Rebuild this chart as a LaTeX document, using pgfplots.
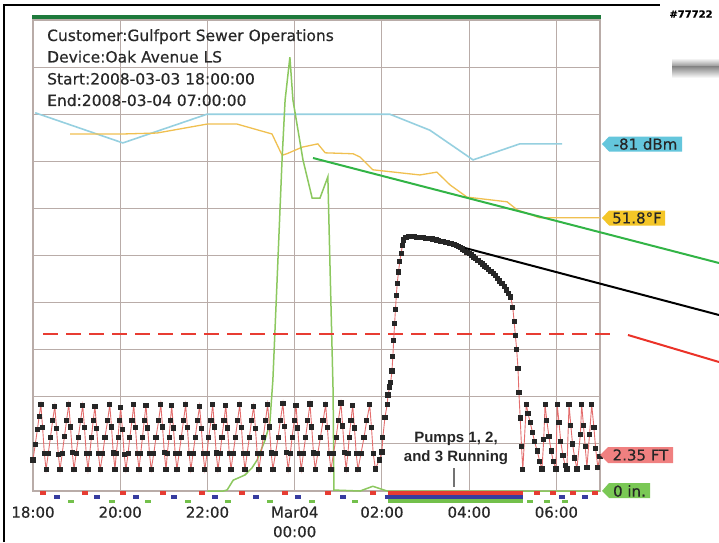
\documentclass[border=0pt]{standalone}
\usepackage{fontspec}
\setmainfont{DejaVu Sans}[FakeBold=0.35]
\newfontfamily\lib{Liberation Sans}
\usepackage{pgfplots}
\usepackage{pgfplotstable}
\pgfplotsset{compat=1.18}
\definecolor{gridc}{RGB}{185,172,168}
\definecolor{cyanl}{RGB}{150,208,224}
\definecolor{yell}{RGB}{240,192,80}
\definecolor{rain}{RGB}{140,200,95}
\definecolor{lvl}{RGB}{228,110,110}
\definecolor{alarm}{RGB}{232,60,50}
\definecolor{topg}{RGB}{30,122,60}
\definecolor{pr}{RGB}{230,60,50}
\definecolor{pb}{RGB}{55,60,160}
\definecolor{pg}{RGB}{115,192,75}
\definecolor{tagc}{RGB}{100,198,220}
\definecolor{tagy}{RGB}{244,198,40}
\definecolor{tagr}{RGB}{240,128,128}
\definecolor{tagg}{RGB}{122,200,85}
\definecolor{txt}{RGB}{40,40,40}
\definecolor{annog}{RGB}{50,180,70}
\definecolor{annor}{RGB}{235,50,40}

% wet well level (ft scale units), time in hours since 18:00
\pgfplotstableread{
t v
0.00 0.66
0.05 0.98
0.10 1.30
0.14 1.58
0.18 1.83
0.22 1.35
0.26 0.80
0.30 0.45
0.35 0.80
0.40 1.14
0.45 1.49
0.50 1.80
0.54 1.32
0.58 0.78
0.62 0.45
0.67 0.80
0.72 1.15
0.77 1.50
0.82 1.84
0.86 1.36
0.90 0.82
0.94 0.46
0.99 0.80
1.04 1.14
1.09 1.49
1.14 1.82
1.18 1.35
1.22 0.80
1.26 0.45
1.30 0.80
1.34 1.14
1.38 1.49
1.42 1.80
1.46 1.33
1.50 0.79
1.54 0.45
1.60 0.80
1.65 1.14
1.71 1.49
1.76 1.83
1.80 1.36
1.84 0.81
1.88 0.46
1.91 0.80
1.95 1.14
1.98 1.49
2.01 1.78
2.05 1.31
2.09 0.78
2.13 0.45
2.18 0.80
2.22 1.14
2.27 1.49
2.31 1.83
2.35 1.35
2.39 0.80
2.43 0.46
2.47 0.80
2.51 1.14
2.55 1.49
2.59 1.82
2.63 1.34
2.67 0.80
2.71 0.45
2.77 0.80
2.82 1.14
2.88 1.49
2.93 1.84
2.97 1.36
3.01 0.82
3.05 0.45
3.08 0.80
3.12 1.14
3.15 1.49
3.18 1.81
3.22 1.34
3.26 0.80
3.30 0.46
3.35 0.80
3.40 1.14
3.45 1.49
3.50 1.83
3.54 1.35
3.58 0.80
3.62 0.45
3.67 0.80
3.72 1.14
3.77 1.49
3.82 1.80
3.86 1.33
3.90 0.79
3.94 0.45
3.99 0.80
4.03 1.14
4.08 1.49
4.12 1.84
4.16 1.36
4.20 0.81
4.24 0.45
4.29 0.80
4.33 1.14
4.38 1.49
4.42 1.82
4.46 1.34
4.50 0.80
4.54 0.46
4.59 0.80
4.64 1.14
4.69 1.49
4.74 1.83
4.78 1.35
4.82 0.80
4.86 0.45
4.91 0.80
4.96 1.14
5.01 1.49
5.06 1.80
5.10 1.33
5.14 0.79
5.18 0.45
5.23 0.80
5.28 1.14
5.33 1.49
5.38 1.84
5.42 1.36
5.46 0.81
5.50 0.46
5.56 0.80
5.62 1.14
5.67 1.49
5.73 1.86
5.77 1.37
5.81 0.82
5.85 0.45
5.90 0.80
5.94 1.14
5.99 1.49
6.03 1.82
6.07 1.34
6.11 0.80
6.15 0.45
6.20 0.80
6.25 1.14
6.30 1.49
6.35 1.85
6.39 1.36
6.43 0.81
6.47 0.46
6.53 0.80
6.59 1.14
6.65 1.49
6.71 1.83
6.75 1.35
6.79 0.80
6.83 0.45
6.89 0.80
6.95 1.14
7.00 1.49
7.06 1.87
7.10 1.38
7.14 0.82
7.18 0.46
7.22 0.80
7.25 1.14
7.29 1.49
7.33 1.82
7.37 1.34
7.41 0.80
7.45 0.45
7.52 0.80
7.59 1.14
7.65 1.49
7.72 1.83
7.76 1.35
7.80 0.80
7.85 0.47
7.94 0.66
8.00 0.83
8.02 1.13
8.07 1.57
8.12 1.83
8.14 2.04
8.18 2.21
8.20 2.30
8.23 2.55
8.25 2.85
8.27 3.20
8.29 3.55
8.31 3.85
8.33 4.15
8.35 4.40
8.38 4.65
8.41 4.88
8.44 5.05
8.47 5.22
8.50 5.33
8.55 5.39
8.60 5.40
8.65 5.40
8.70 5.40
8.75 5.40
8.80 5.39
8.85 5.39
8.90 5.38
8.95 5.38
9.00 5.37
9.05 5.37
9.10 5.36
9.15 5.35
9.20 5.34
9.25 5.33
9.30 5.32
9.35 5.30
9.40 5.29
9.45 5.28
9.50 5.27
9.55 5.26
9.60 5.25
9.65 5.24
9.70 5.22
9.75 5.20
9.80 5.17
9.85 5.14
9.90 5.11
9.95 5.07
10.00 5.04
10.05 5.01
10.10 4.97
10.15 4.93
10.20 4.89
10.25 4.86
10.30 4.82
10.35 4.78
10.40 4.74
10.45 4.70
10.50 4.66
10.55 4.62
10.60 4.57
10.65 4.52
10.70 4.46
10.75 4.41
10.80 4.34
10.85 4.27
10.90 4.20
10.95 4.12
11.00 3.90
11.03 3.60
11.06 3.30
11.09 3.00
11.12 2.60
11.14 2.10
11.17 1.55
11.20 0.95
11.23 0.45
11.31 1.83
11.35 1.65
11.40 1.45
11.45 1.25
11.50 1.05
11.56 0.85
11.62 0.62
11.67 0.47
11.71 1.10
11.74 1.83
11.78 1.50
11.83 1.15
11.88 0.85
11.93 0.62
11.99 0.47
12.02 1.83
12.06 1.45
12.10 1.05
12.15 0.75
12.20 0.55
12.24 0.47
12.29 1.83
12.33 1.40
12.37 1.00
12.42 0.70
12.47 0.47
12.55 1.20
12.58 1.83
12.62 1.40
12.66 0.95
12.70 0.50
12.76 1.20
12.81 1.83
12.86 1.35
12.90 0.90
12.95 0.50
13.00 0.74
}\levels

\pgfplotstableread{
t v
4.00 0.00
4.36 0.00
4.45 0.02
4.59 0.23
4.86 0.34
5.02 0.49
5.14 0.66
5.32 1.08
5.43 1.44
5.50 2.36
5.59 4.33
5.71 7.03
5.78 8.30
5.89 9.21
5.96 8.30
6.19 7.03
6.40 6.22
6.58 6.22
6.76 6.67
6.81 4.76
6.88 2.14
6.90 0.02
7.50 0.00
7.79 0.10
8.12 0.00
13.00 0.00
}\rain

\pgfplotstableread{
t v
0.05 8.03
2.06 7.39
3.99 8.00
8.18 8.00
9.10 7.66
10.09 7.03
11.16 7.37
12.13 7.37
}\signal

\pgfplotstableread{
t v
0.85 7.58
2.06 7.58
2.84 7.60
3.99 7.79
4.68 7.79
5.48 7.58
5.71 7.13
5.82 7.16
6.17 7.30
6.53 7.37
6.70 7.18
7.34 7.16
7.50 7.09
7.79 6.82
8.87 6.71
9.26 6.77
9.56 6.50
9.95 6.24
10.87 6.14
11.10 5.97
11.62 5.80
13.00 5.80
}\temp

\begin{document}
\begin{tikzpicture}[x=1pt,y=1pt]
\useasboundingbox (0,0) rectangle (719,542);
\fill[white] (0,0) rectangle (719,542);
\begin{axis}[at={(33pt,51pt)}, anchor=south west, scale only axis,
  width=567pt, height=471pt, xmin=0, xmax=13, ymin=0, ymax=10, clip=false,
  xtick={0,2,4,6,8,10,12},
  xticklabels={18:00,20:00,22:00,Mar04\\00:00,02:00,04:00,06:00},
  xticklabel style={align=center, font=\fontsize{15}{19.5}\selectfont, text=txt, yshift=-12pt},
  ytick={0,1,...,10}, yticklabel style={opacity=0},
  grid=major, major grid style={gridc, line width=1.1pt},
  axis line style={gridc, line width=1.1pt}, tick style={draw=none}]
\addplot[cyanl, line width=1.6pt] table[x=t,y=v] {\signal};
\addplot[yell, line width=1.3pt] table[x=t,y=v] {\temp};
\addplot[rain, line width=1.5pt] table[x=t,y=v] {\rain};
\addplot[alarm, line width=2pt, dash pattern=on 15pt off 8pt] coordinates {(0.23,3.33) (13.27,3.33)};
\addplot[lvl, line width=0.9pt, mark=square*, mark size=2.1pt, mark options={draw=black!85, fill=black!85}] table[x=t,y=v] {\levels};
% pump status: short runs
\addplot[only marks, pr, mark=-, mark size=2.8pt, mark options={line width=3.5pt}] coordinates {(0.23,-0.04) (1.19,-0.04) (2.06,-0.04) (2.98,-0.04) (3.87,-0.04) (4.79,-0.04) (5.78,-0.04) (6.76,-0.04) (7.80,-0.04) (11.55,-0.04) (11.92,-0.04) (12.38,-0.04) (12.88,-0.04)};
\addplot[only marks, pb, mark=-, mark size=2.8pt, mark options={line width=3.5pt}] coordinates {(0.55,-0.13) (1.47,-0.13) (2.36,-0.13) (3.23,-0.13) (4.17,-0.13) (5.11,-0.13) (6.08,-0.13) (7.11,-0.13) (12.13,-0.13) (12.65,-0.13)};
\addplot[only marks, pg, mark=-, mark size=2.8pt, mark options={line width=3.5pt}] coordinates {(0.87,-0.22) (1.81,-0.22) (2.64,-0.22) (3.55,-0.22) (4.47,-0.22) (5.43,-0.22) (6.40,-0.22) (7.38,-0.22) (11.39,-0.22) (11.78,-0.22) (12.20,-0.22)};
% pumps 1,2,3 running together
\addplot[pr, line width=4pt] coordinates {(8.14,-0.04) (11.23,-0.04)};
\addplot[pb, line width=4pt] coordinates {(8.07,-0.13) (11.23,-0.13)};
\addplot[pg, line width=4pt] coordinates {(8.14,-0.22) (11.23,-0.22)};
\end{axis}
% top bar
\draw[topg, line width=4.5pt] (32,525) -- (601,525);
% frame
\draw[line width=2.5pt] (4,0) -- (4,537) -- (660,537);
\node[font=\fontsize{10}{11}\selectfont\bfseries] at (691,528) {\#77722};
\shade[top color=white, bottom color=black!45] (672,484) rectangle (719,475);
\shade[top color=black!45, bottom color=white] (672,475) rectangle (719,464);
% header
\begin{scope}[every node/.style={anchor=base west, text=txt, font=\fontsize{15.5}{18}\selectfont, inner sep=0pt}]
\node at (47,501) {Customer:Gulfport Sewer Operations};
\node at (47,479.5) {Device:Oak Avenue LS};
\node at (47,457.5) {Start:2008-03-03 18:00:00};
\node at (47,436) {End:2008-03-04 07:00:00};
\end{scope}
% pumps note
\node[anchor=base, font=\lib\bfseries\fontsize{15}{18}\selectfont, text=black!85, inner sep=0pt] at (456,100) {Pumps 1, 2,};
\node[anchor=base, font=\lib\bfseries\fontsize{15}{18}\selectfont, text=black!85, inner sep=0pt] at (456,81) {and 3 Running};
\draw[black!55, line width=1.2pt] (454,74) -- (454,55);
% callout lines
\draw[annog, line width=2pt] (313,384) -- (719,279);
\draw[black, line width=2pt] (465,294) -- (719,227);
\draw[annor, line width=2pt] (628,207) -- (719,180);
% tags
\begin{scope}[every node/.style={text=black!85, font=\fontsize{15}{18}\selectfont, inner sep=0pt}]
\fill[tagc] (602,398) -- (609,405.5) -- (682,405.5) -- (682,390.5) -- (609,390.5) -- cycle;
\node at (645.5,398) {-81 dBm};
\fill[tagy] (602,324) -- (609,331.5) -- (665,331.5) -- (665,316.5) -- (609,316.5) -- cycle;
\node at (637,324) {51.8°F};
\fill[tagr] (600,87) -- (608,95) -- (673,95) -- (673,79) -- (608,79) -- cycle;
\node at (640.5,87) {2.35 FT};
\fill[tagg] (602,51) -- (609,59) -- (650,59) -- (650,44) -- (609,44) -- cycle;
\node at (629.5,51) {0 in.};
\end{scope}
\end{tikzpicture}
\end{document}
